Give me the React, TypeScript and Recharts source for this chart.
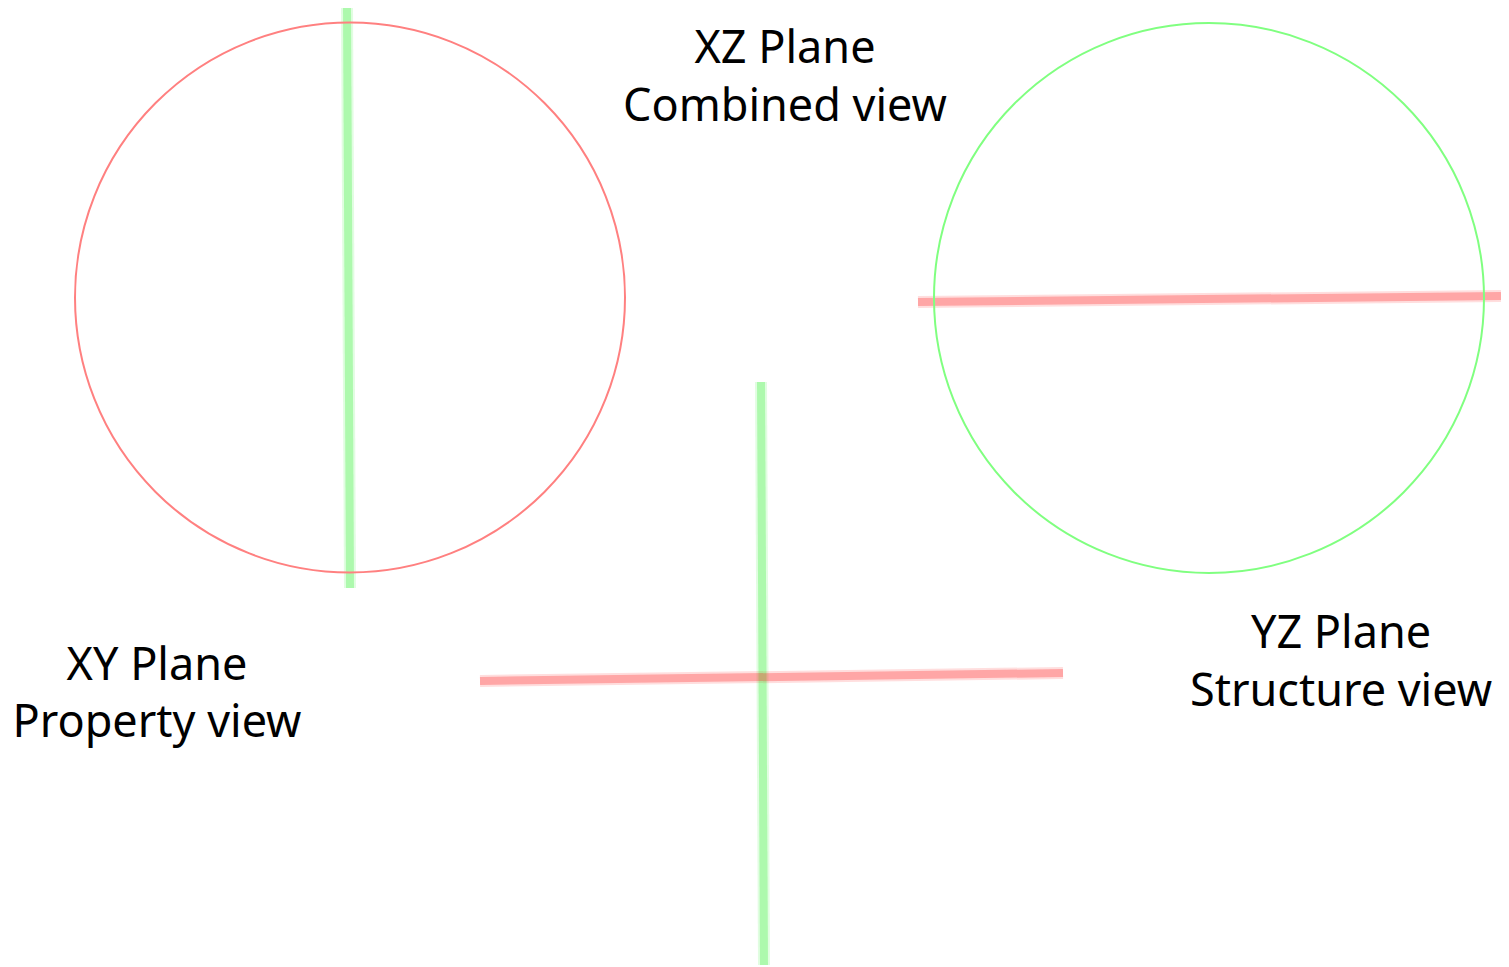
import React from "react";
import { ComposedChart, XAxis, YAxis, Scatter, ReferenceLine, ReferenceDot } from "recharts";

// Coordinates in data space (1 unit = 1 px, origin top-left of chart)
const circleNames = ["XY circle", "YZ circle"];
const circleCx = [342, 1201];
const circleCy = [289.5, 290];
const circleR = [275, 275];
const circleColors = ["#ff8080", "#80ff80"];

const barNames = ["XY green", "YZ red", "cross green", "cross red"];
const barX1 = [339, 910, 753, 472];
const barY1 = [-1, 294, 374, 673];
const barX2 = [342, 1493, 756, 1055];
const barY2 = [580, 288, 957, 665];
const barColors = ["40,240,40", "255,20,20", "40,240,40", "255,20,20"];

const labelText = ["XZ Plane", "Combined view", "XY Plane", "Property view", "YZ Plane", "Structure view"];
const labelX = [777, 777, 149, 149, 1333, 1333];
const labelY = [55, 113, 672, 729, 640, 698];

const labelData = labelText.map((t, i) => ({ x: labelX[i], y: labelY[i], text: t }));

const LabelShape = (props: any) => (
  <text
    x={props.cx}
    y={props.cy}
    textAnchor="middle"
    fontFamily="'Noto Sans', 'Open Sans', sans-serif"
    fontSize={45}
    fill="#000"
  >
    {props.payload.text}
  </text>
);

export default function App() {
  return (
    <ComposedChart width={1501} height={959} margin={{ top: 0, right: 0, bottom: 0, left: 0 }} data={labelData}>
      <XAxis type="number" dataKey="x" domain={[0, 1501]} hide allowDataOverflow />
      <YAxis type="number" dataKey="y" domain={[0, 959]} reversed hide allowDataOverflow />
      {circleNames.map((n, i) => (
        <ReferenceDot
          key={n}
          x={circleCx[i]}
          y={circleCy[i]}
          r={circleR[i]}
          fill="none"
          stroke={circleColors[i]}
          strokeWidth={2}
          ifOverflow="visible"
        />
      ))}
      {barNames.map((n, i) => (
        <ReferenceLine
          key={n + "o"}
          segment={[{ x: barX1[i], y: barY1[i] }, { x: barX2[i], y: barY2[i] }]}
          stroke={`rgba(${barColors[i]},0.14)`}
          strokeWidth={12}
          ifOverflow="visible"
        />
      ))}
      {barNames.map((n, i) => (
        <ReferenceLine
          key={n + "i"}
          segment={[{ x: barX1[i], y: barY1[i] }, { x: barX2[i], y: barY2[i] }]}
          stroke={`rgba(${barColors[i]},0.28)`}
          strokeWidth={8}
          ifOverflow="visible"
        />
      ))}
      <Scatter data={labelData} dataKey="y" shape={<LabelShape />} isAnimationActive={false} />
    </ComposedChart>
  );
}
